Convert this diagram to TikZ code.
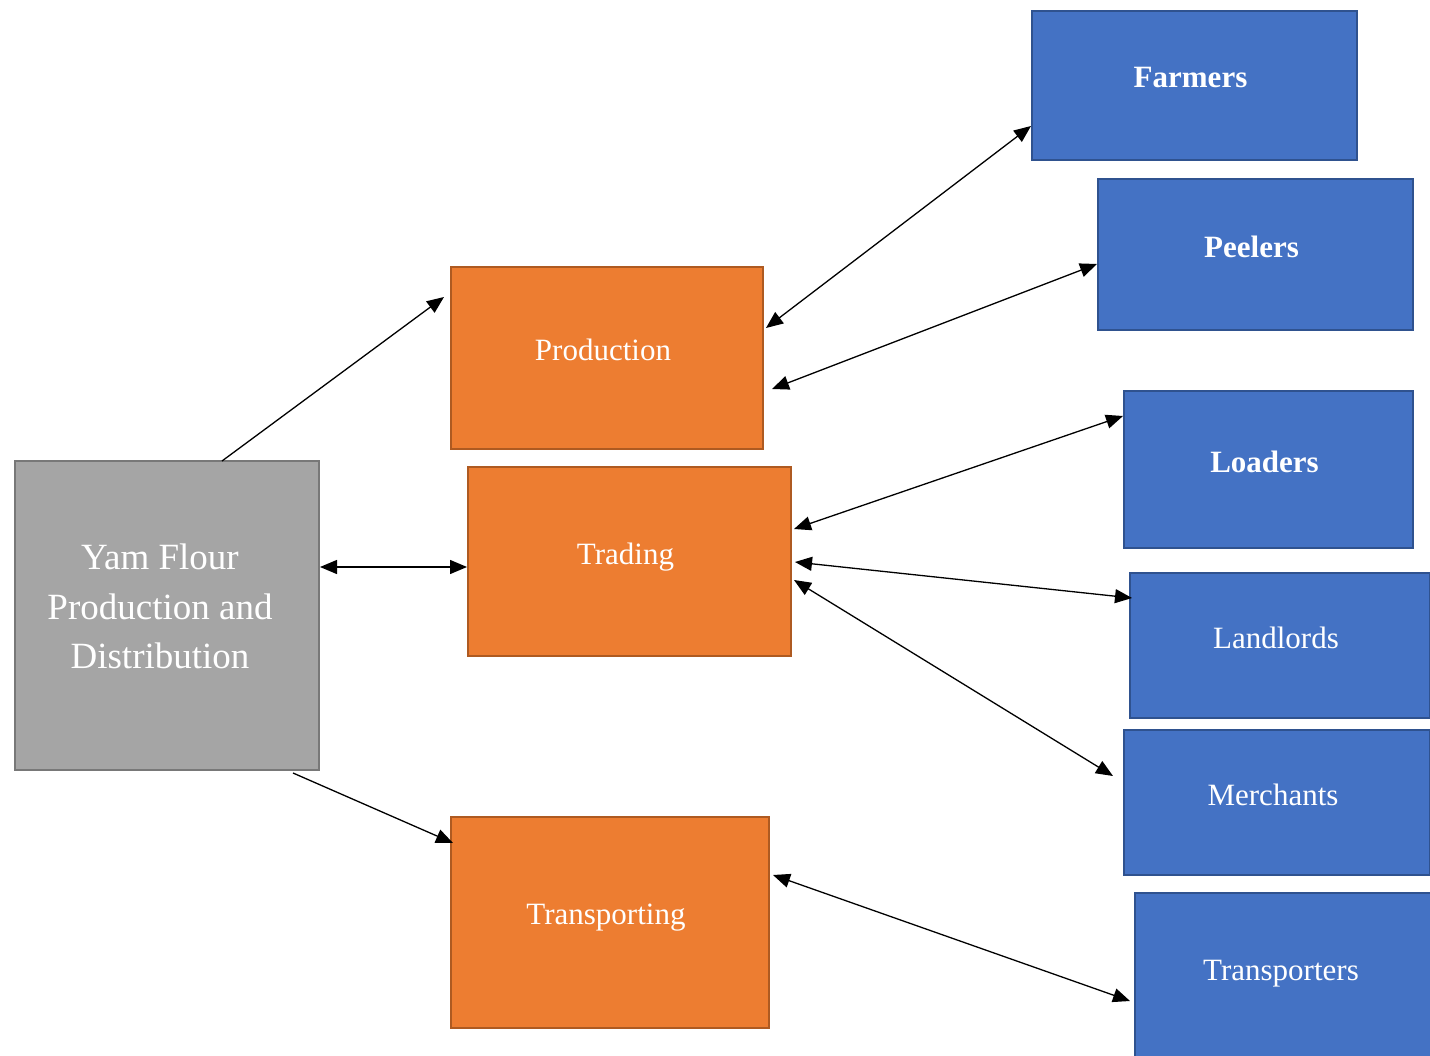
\documentclass[tikz,border=0pt]{standalone}
\usepackage{fontspec}
\setmainfont{Liberation Serif}
\usetikzlibrary{arrows.meta,calc}
\definecolor{orangefill}{HTML}{ED7D31}
\definecolor{orangeline}{HTML}{AE5A21}
\definecolor{bluefill}{HTML}{4472C4}
\definecolor{blueline}{HTML}{2F528F}
\definecolor{grayfill}{HTML}{A5A5A5}
\definecolor{grayline}{HTML}{787878}
\newcommand{\boxtext}[1]{\raisebox{16pt}{#1}\hspace{8pt}}
\tikzset{
  box/.style={draw, line width=2pt, anchor=north west, inner sep=0pt, text=white, align=center},
  orangebox/.style={box, fill=orangefill, draw=orangeline, font=\fontsize{31}{37}\selectfont},
  bluebox/.style={box, fill=bluefill, draw=blueline, font=\fontsize{31}{37}\selectfont},
  graybox/.style={box, fill=grayfill, draw=grayline, font=\fontsize{37}{49.5}\selectfont},
  link/.style={line width=1.3pt, {Triangle[length=17pt,width=14pt]}-{Triangle[length=17pt,width=14pt]}},
  onelink/.style={line width=1.3pt, -{Triangle[length=17pt,width=14pt]}}
}
\begin{document}
\begin{tikzpicture}[x=1pt,y=-1pt]
\useasboundingbox (0,0) rectangle (1430,1056);
\clip (0,0) rectangle (1430,1056);
\fill[white] (0,0) rectangle (1430,1056);
% left box
\node[graybox, minimum width=304pt, minimum height=309pt] (yam) at (14,460) {\raisebox{0pt}[0pt][0pt]{\begin{tabular}{c}Yam Flour\\Production and\\Distribution\end{tabular}}\hspace{14pt}};
% middle boxes
\node[orangebox, minimum width=312pt, minimum height=182pt] (prod) at (450,266) {\boxtext{Production}};
\node[orangebox, minimum width=323pt, minimum height=189pt] (trad) at (467,466) {\boxtext{Trading}};
\node[orangebox, minimum width=318pt, minimum height=211pt] (trans) at (450,816) {\boxtext{Transporting}};
% right boxes
\node[bluebox, minimum width=325pt, minimum height=149pt] (farm) at (1031,10) {\boxtext{\bfseries Farmers}};
\node[bluebox, minimum width=315pt, minimum height=151pt] (peel) at (1097,178) {\boxtext{\bfseries Peelers}};
\node[bluebox, minimum width=289pt, minimum height=157pt] (load) at (1123,390) {\boxtext{\bfseries Loaders}};
\node[bluebox, minimum width=300pt, minimum height=145pt] (land) at (1129,572) {\boxtext{Landlords}};
\node[bluebox, minimum width=306pt, minimum height=145pt] (merch) at (1123,729) {\boxtext{Merchants}};
\node[bluebox, minimum width=300pt, minimum height=170pt] (transp) at (1134,892) {\boxtext{Transporters}};
% connectors
\draw[onelink] ($(yam.north west)+(208,1)$) -- ($(prod.north west)+(-6,31)$);
\draw[link] (yam.east |- 0,567) -- (trad.west |- 0,567);
\draw[onelink] ($(yam.south west)+(279,2)$) -- ($(trans.north west)+(3,27)$);
\draw[link] ($(prod.north east)+(2,62)$) -- ($(farm.north west)+(0,116)$);
\draw[link] ($(prod.north east)+(8,123)$) -- ($(peel.north west)+(0,86)$);
\draw[link] ($(trad.north east)+(2,63)$) -- ($(load.north west)+(0,26)$);
\draw[link] ($(trad.north east)+(3,96)$) -- ($(land.north west)+(3,26)$);
\draw[link] ($(trad.north east)+(2,114)$) -- ($(merch.north west)+(-10,47)$);
\draw[link] ($(trans.north east)+(3,59)$) -- ($(transp.north west)+(-4,109)$);
\end{tikzpicture}
\end{document}
